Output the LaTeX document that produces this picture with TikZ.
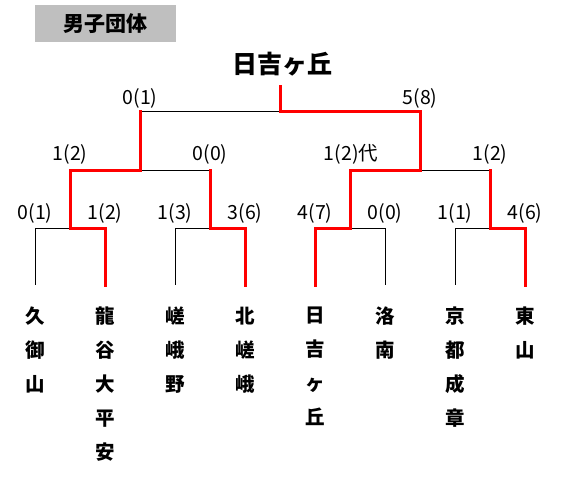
\documentclass[tikz,border=0pt]{standalone}
\usepackage{fontspec}
\setmainfont{Noto Sans CJK JP}
\definecolor{boxgray}{HTML}{BFBFBF}
\definecolor{winred}{HTML}{FF0000}
\begin{document}
\begin{tikzpicture}[x=1pt,y=-1pt,
  bk/.style={draw=black,line width=0.9pt},
  rd/.style={draw=winred,line width=3pt,line cap=rect,line join=miter},
  lbl/.style={inner sep=0pt,font=\fontsize{19.5}{19.5}\selectfont},
  team/.style={inner sep=0pt,align=center,anchor=north,font=\bfseries\fontsize{19.5}{33.8}\selectfont},
]
\useasboundingbox (0,0) rectangle (578,480);
% header box
\node[fill=boxgray,minimum width=141pt,minimum height=36.7pt,inner sep=0pt,
      font=\bfseries\fontsize{21}{21}\selectfont] (hdr) at (105.5,23.3) {男子団体};
% champion
\node[inner sep=0pt,font=\bfseries\fontsize{25}{25}\selectfont] (champ) at (282,64) {日吉ヶ丘};
% coordinates
\coordinate (r) at (280,86);
\coordinate (rj) at (280,111.5);
\coordinate (s1) at (140,111.5); \coordinate (s2) at (420,111.5);
\coordinate (s1b) at (140,170); \coordinate (s2b) at (420,170);
\coordinate (q1) at (70,170); \coordinate (q2) at (210,170);
\coordinate (q3) at (350,170); \coordinate (q4) at (490,170);
\coordinate (q1b) at (70,228); \coordinate (q2b) at (210,228);
\coordinate (q3b) at (350,228); \coordinate (q4b) at (490,228);
\foreach \i/\x in {1/35,2/105,3/175,4/245,5/315,6/385,7/455,8/525}{
  \coordinate (l\i) at (\x,228);
  \coordinate (l\i b) at (\x,285);
}
% black bracket
\draw[bk] (s1) -- (s2);
\draw[bk] (s1) -- (s1b); \draw[bk] (s2) -- (s2b);
\draw[bk] (q1) -- (q2); \draw[bk] (q3) -- (q4);
\draw[bk] (q1) -- (q1b); \draw[bk] (q2) -- (q2b);
\draw[bk] (q3) -- (q3b); \draw[bk] (q4) -- (q4b);
\draw[bk] (l1) -- (l2); \draw[bk] (l3) -- (l4);
\draw[bk] (l5) -- (l6); \draw[bk] (l7) -- (l8);
\foreach \i in {1,...,8}{ \draw[bk] (l\i) -- (l\i b); }
% winners in red
\draw[rd] (r) -- (rj) -- (s2) -- (s2b) -- (q3) -- (q3b) -- (l5) -- (l5b);
\draw[rd] (s1) -- (s1b) -- (q1) -- (q1b) -- (l2) -- (l2b);
\draw[rd] (q2) -- (q2b) -- (l4) -- (l4b);
\draw[rd] (q4) -- (q4b) -- (l8) -- (l8b);
% scores
\node[lbl] (a1) at (140,98) {0(1)};
\node[lbl] (a2) at (420,98) {5(8)};
\node[lbl] (b1) at (70,154) {1(2)};
\node[lbl] (b2) at (210,154) {0(0)};
\node[lbl] (b3) at (351,154) {1(2)代};
\node[lbl] (b4) at (490,154) {1(2)};
\node[lbl] (c1) at (35,213) {0(1)};
\node[lbl] (c2) at (105,213) {1(2)};
\node[lbl] (c3) at (175,213) {1(3)};
\node[lbl] (c4) at (245,213) {3(6)};
\node[lbl] (c5) at (315,213) {4(7)};
\node[lbl] (c6) at (385,213) {0(0)};
\node[lbl] (c7) at (455,213) {1(1)};
\node[lbl] (c8) at (525,213) {4(6)};
% teams
\node[team] (t1) at (35,307) {久\\御\\山};
\node[team] (t2) at (105,307) {龍\\谷\\大\\平\\安};
\node[team] (t3) at (175,307) {嵯\\峨\\野};
\node[team] (t4) at (245,307) {北\\嵯\\峨};
\node[team] (t5) at (315,307) {日\\吉\\ヶ\\丘};
\node[team] (t6) at (385,307) {洛\\南};
\node[team] (t7) at (455,307) {京\\都\\成\\章};
\node[team] (t8) at (525,307) {東\\山};
\end{tikzpicture}
\end{document}
